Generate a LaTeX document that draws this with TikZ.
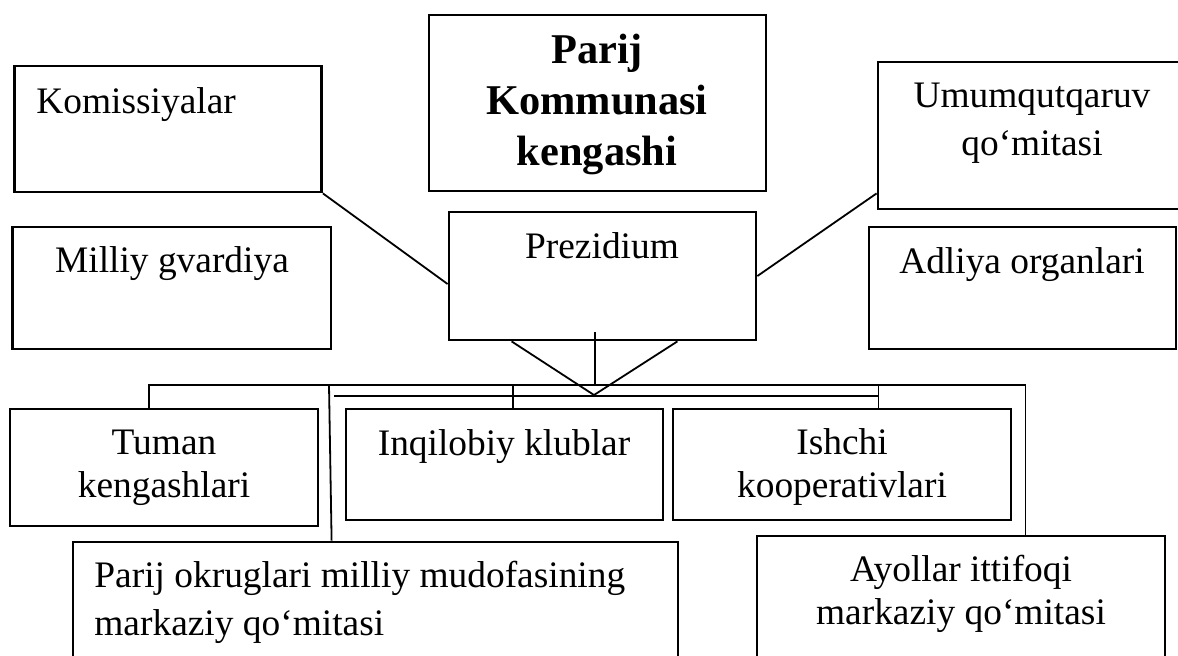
\documentclass[tikz,border=0pt]{standalone}
\usepackage{fontspec}
\setmainfont{Liberation Serif}
\usetikzlibrary{positioning,fit,calc}

\tikzset{
  box/.style={draw,line width=1.4pt,inner sep=0pt},
  txt/.style={font=\fontsize{18.7}{21.5}\selectfont,align=center,inner sep=0pt},
  link/.style={line width=0.9pt}
}

\begin{document}
\begin{tikzpicture}[x=0.5pt,y=-0.5pt]
  \useasboundingbox (0,0) rectangle (1178,655);
  \clip (0,0) rectangle (1178,655);
  % boxes
  \node[box,fit={(429,15)(766,191)}]   (pkk)  {};
  \node[box,fit={(14.5,66)(321.5,192)}] (kom) {};
  \node[box,fit={(878,62)(1190,209)}]  (umu)  {};
  \node[box,fit={(12.5,227)(331,349)}] (mil)  {};
  \node[box,fit={(449,212)(756,340)}]  (prez) {};
  \node[box,fit={(869,227)(1176,349)}] (adl)  {};
  \node[box,fit={(10,409)(318,526)}]   (tum)  {};
  \node[box,fit={(346,409)(663,520)}]  (inq)  {};
  \node[box,fit={(673,409)(1011,520)}] (ish)  {};
  \node[box,fit={(73,542)(678,690)}]   (pok)  {};
  \node[box,fit={(757,536)(1165,690)}] (ayo)  {};
  % texts (base = last line)
  \node[txt,anchor=base,font=\fontsize{21.2}{25.5}\selectfont\bfseries] (pkkt) at (597,165)
       {Parij\\Kommunasi\\kengashi};
  \node[txt,anchor=base west] (komt) at (36,113) {Komissiyalar};
  \node[txt,anchor=base,font=\fontsize{18.7}{24}\selectfont] (umut) at (1032,155)
       {Umumqutqaruv\\qo‘mitasi};
  \node[txt,anchor=base] (milt)  at (172,272) {Milliy gvardiya};
  \node[txt,anchor=base] (prezt) at (602,258) {Prezidium};
  \node[txt,anchor=base] (adlt)  at (1022,273) {Adliya organlari};
  \node[txt,anchor=base] (tumt)  at (164,497) {Tuman\\kengashlari};
  \node[txt,anchor=base] (inqt)  at (504,455) {Inqilobiy klublar};
  \node[txt,anchor=base] (isht)  at (842,497) {Ishchi\\kooperativlari};
  \node[txt,anchor=base west,align=left,font=\fontsize{18.7}{24}\selectfont] (pokt) at (94,635)
       {Parij okruglari milliy mudofasining\\markaziy qo‘mitasi};
  \node[txt,anchor=base] (ayot)  at (961,624) {Ayollar ittifoqi\\markaziy qo‘mitasi};
  % connectors
  \coordinate (apex)  at (594,395);
  \coordinate (stem)  at (595,385);
  \coordinate (busL)  at (149,385);
  \coordinate (busR)  at (1025.5,385);
  \coordinate (bus2)  at (334,396);
  \coordinate (drop)  at (329,385);
  \coordinate (inqtap) at (513,385);
  \coordinate (ishtap) at (878.5,385);
  \draw[link] (kom.south east) -- ([yshift=-4pt]prez.west);
  \draw[link] (prez.east) -- ([yshift=8.5pt]umu.south west);
  \draw[link] ([xshift=32pt]prez.south west) -- (apex) -- ([xshift=-40pt]prez.south east);
  \draw[link] (stem) -- ++(0,-53);
  \draw[link] (busL |- tum.north) -- (busL) -- (busR) -- (busR |- ayo.north);
  \draw[link] (bus2) -- (bus2 -| ishtap);
  \draw[link] (drop) -- ($(pok.north west)+(260,0)$);
  \draw[link] (inqtap) -- (inqtap |- inq.north);
  \draw[link] (ishtap) -- (ishtap |- ish.north);
\end{tikzpicture}
\end{document}
